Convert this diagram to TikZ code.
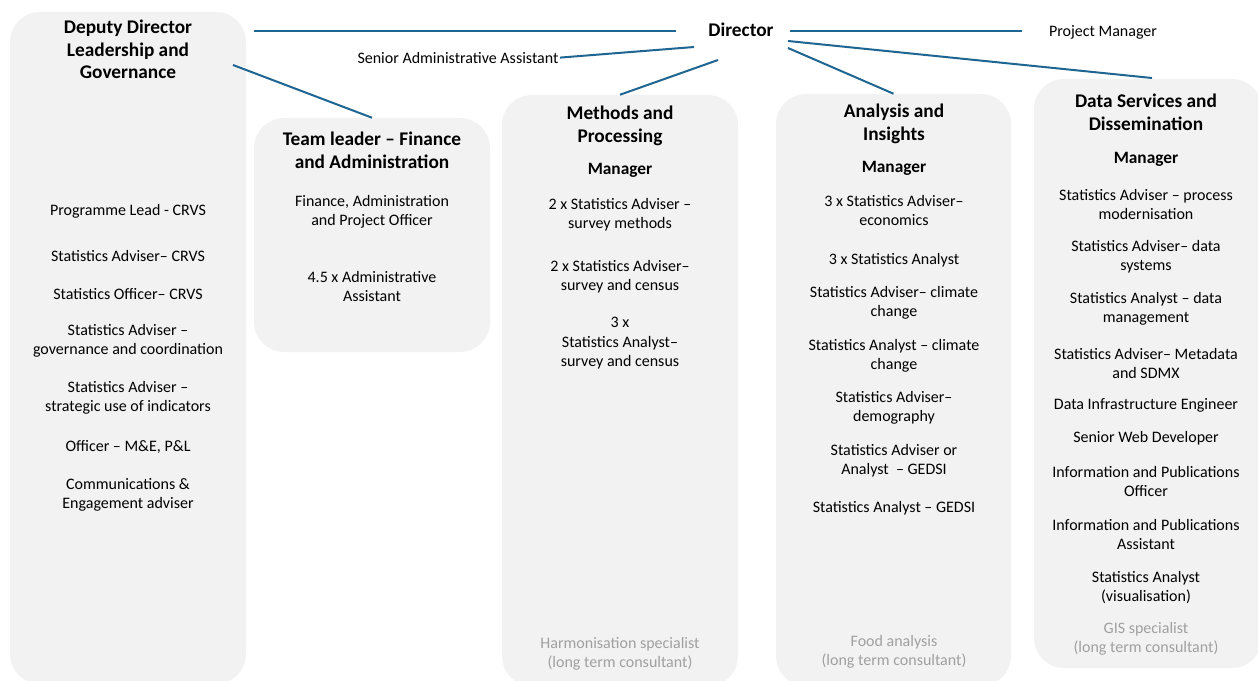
\documentclass[tikz,border=0pt]{standalone}
\usepackage{fontspec}
\setmainfont{Carlito}
\usetikzlibrary{fit}
\definecolor{boxfill}{HTML}{F2F2F2}
\definecolor{linkc}{HTML}{1F6591}
\definecolor{graytext}{HTML}{A0A0A0}
\begin{document}
\begin{tikzpicture}[x=0.75pt,y=-0.75pt,
  box/.style={fill=boxfill, rounded corners=22.5pt, inner sep=0pt, draw=none},
  title/.style={font=\bfseries\fontsize{14.5}{17}\selectfont, align=center, inner sep=0pt},
  mgr/.style={font=\bfseries\fontsize{13}{15}\selectfont, inner sep=0pt, yshift=-1pt},
  item/.style={font=\fontsize{12}{14.3}\selectfont, align=center, inner sep=0pt, yshift=-1.2pt},
  consult/.style={item, text=graytext},
  link/.style={draw=linkc, line width=1.5pt}]
\useasboundingbox (0,0) rectangle (1258,681);
% boxes
\node[box, fit={(10,12)(246,684)}] (b1) {};
\node[box, fit={(254,118)(490,352)}] (b2) {};
\node[box, fit={(502,95)(738,686)}] (b3) {};
\node[box, fit={(776,94)(1011,686)}] (b4) {};
\node[box, fit={(1034,79)(1262,668)}] (b5) {};
% top
\node[title] (dir) at (741,30) {Director};
\node[item] (pm) at (1103,31) {Project Manager};
\node[item, inner sep=1pt] (saa) at (458,56) {Senior Administrative Assistant};
\coordinate (d1) at (676,31);
\coordinate (d2) at (790,31);
\coordinate (d3) at (694,47);
\coordinate (d4) at (718,60);
\coordinate (d5) at (788,48);
\coordinate (d6) at (788,41);
\coordinate (c1) at (254,31);
\coordinate (c2) at (1022,31);
\coordinate (c3) at (233,65);
\coordinate (c4) at (1152,78);
% box 1
\node[title] (t1) at (128,49.5) {Deputy Director\\Leadership and\\Governance};
\node[item] (i11) at (128,210) {Programme Lead - CRVS};
\node[item] (i12) at (128,254) {Statistics Adviser– CRVS};
\node[item] (i13) at (128,292) {Statistics Officer– CRVS};
\node[item] (i14) at (128,339.5) {Statistics Adviser –\\governance and coordination};
\node[item] (i15) at (128,396.5) {Statistics Adviser –\\strategic use of indicators};
\node[item] (i16) at (128,445) {Officer – M\&E, P\&L};
\node[item] (i17) at (128,493) {Communications \&\\Engagement adviser};
% box 2
\node[title] (t2) at (372,150) {Team leader – Finance\\and Administration};
\node[item] (i21) at (372,210.5) {Finance, Administration\\and Project Officer};
\node[item] (i22) at (372,284.5) {4.5 x Administrative\\Assistant};
% box 3
\node[title] (t3) at (620,126) {Methods and\\Processing};
\node[mgr] (m3) at (620,169) {Manager};
\node[item] (i31) at (620,213) {2 x Statistics Adviser –\\survey methods};
\node[item] (i32) at (620,275.5) {2 x Statistics Adviser–\\survey and census};
\node[item] (i33) at (620,341.5) {3 x\\Statistics Analyst–\\survey and census};
\node[consult] (g3) at (620,652.5) {Harmonisation specialist\\(long term consultant)};
% box 4
\node[title] (t4) at (894,124) {Analysis and\\Insights};
\node[mgr] (m4) at (894,167) {Manager};
\node[item] (i41) at (894,208.5) {3 x Statistics Adviser–\\economics};
\node[item] (i42) at (894,259) {3 x Statistics Analyst};
\node[item] (i43) at (894,301.5) {Statistics Adviser– climate\\change};
\node[item] (i44) at (894,354.5) {Statistics Analyst – climate\\change};
\node[item] (i45) at (894,406.5) {Statistics Adviser–\\demography};
\node[item] (i46) at (894,459) {Statistics Adviser or\\Analyst \ – GEDSI};
\node[item] (i47) at (894,507) {Statistics Analyst – GEDSI};
\node[consult] (g4) at (894,650) {Food analysis\\(long term consultant)};
% box 5
\node[title] (t5) at (1146,112) {Data Services and\\Dissemination};
\node[mgr] (m5) at (1146,158) {Manager};
\node[item] (i51) at (1146,202.5) {Statistics Adviser – process\\modernisation};
\node[item] (i52) at (1146,255.5) {Statistics Adviser– data\\systems};
\node[item] (i53) at (1146,307.5) {Statistics Analyst – data\\management};
\node[item] (i54) at (1146,361.5) {Statistics Adviser– Metadata\\and SDMX};
\node[item] (i55) at (1146,404) {Data Infrastructure Engineer};
\node[item] (i56) at (1146,437) {Senior Web Developer};
\node[item] (i57) at (1146,480) {Information and Publications\\Officer};
\node[item] (i58) at (1146,532.5) {Information and Publications\\Assistant};
\node[item] (i59) at (1146,585.5) {Statistics Analyst\\(visualisation)};
\node[consult] (g5) at (1146,637.5) {GIS specialist\\(long term consultant)};
% connectors
\draw[link] (c1) -- (d1);
\draw[link] (d2) -- (c2);
\draw[link] (saa.east) -- (d3);
\draw[link] (d4) -- (b3.north);
\draw[link] (d5) -- (b4.north);
\draw[link] (d6) -- (c4);
\draw[link] (c3) -- (b2.north);
\end{tikzpicture}
\end{document}
